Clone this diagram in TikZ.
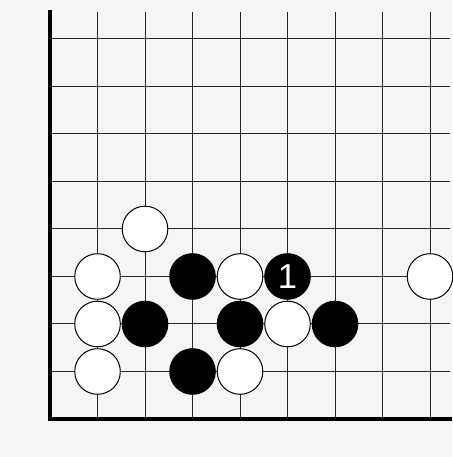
\documentclass[tikz,border=0pt]{standalone}
\usepackage{tikz}
\usepackage{fontspec}
\setsansfont{Liberation Sans}
\usetikzlibrary{positioning}

\begin{document}
\begin{tikzpicture}[x=1cm,y=1cm,
  wst/.style={circle,draw,line width=.6pt,fill=white,minimum size=.96cm,inner sep=0pt},
  bst/.style={circle,draw,line width=.6pt,fill=black,minimum size=.96cm,inner sep=0pt,
    text=white,font=\sffamily\huge},
  grid/.style={line width=.6pt,black!85},
  edge/.style={line width=1.9pt,line cap=rect}]
  \useasboundingbox[fill=black!4] (-1.053,-0.8) rectangle (8.463,8.821);
  \foreach \i in {1,...,8} \draw[grid] (\i,0)--(\i,8.57);
  \foreach \j in {1,...,8} \draw[grid] (0,\j)--(8.42,\j);
  \draw[edge] (0,8.57)--(0,0)--(8.42,0);
  % white stones
  \node[wst] (w24) at (2,4) {};
  \node[wst] (w13) at (1,3) {};
  \node[wst] (w12) at (1,2) {};
  \node[wst] (w11) at (1,1) {};
  \node[wst] (w43) at (4,3) {};
  \node[wst] (w83) at (8,3) {};
  \node[wst] (w52) at (5,2) {};
  \node[wst] (w41) at (4,1) {};
  % black stones
  \node[bst] (b33) at (3,3) {};
  \node[bst] (b53) at (5,3) {1};
  \node[bst] (b22) at (2,2) {};
  \node[bst] (b42) at (4,2) {};
  \node[bst] (b62) at (6,2) {};
  \node[bst] (b31) at (3,1) {};
\end{tikzpicture}
\end{document}
